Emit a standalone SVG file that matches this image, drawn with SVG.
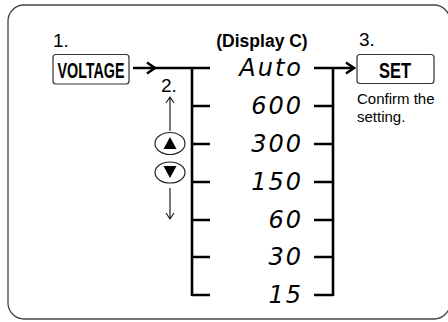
<svg xmlns="http://www.w3.org/2000/svg" width="448" height="322" viewBox="0 0 448 322">
<style>
.lbl{font-family:"Liberation Sans",Arial,sans-serif;fill:#000}
.num{font-size:19px}
.key{font-family:"Liberation Sans Narrow","Liberation Sans",Arial,sans-serif;font-weight:bold;font-size:22px;text-anchor:middle}
.keybox{fill:#fff;stroke:#333;stroke-width:1.2}
.seg{font-family:"DejaVu Sans","Liberation Mono",monospace;font-style:italic;font-weight:200;font-size:24px;text-anchor:end;letter-spacing:2px;fill:#000}
.bar{fill:none;stroke:#000;stroke-width:2.6;stroke-linecap:butt}
.thin{fill:none;stroke:#222;stroke-width:1.2}
.btn{fill:#fff;stroke:#222;stroke-width:1.2}
</style>
<rect id="frame" x="8" y="5" width="442" height="314" rx="16" ry="16" fill="#fff" stroke="#444" stroke-width="1.3"/>

<g id="step1">
  <text class="lbl num" x="53" y="47">1.</text>
</g>
<g id="voltage">
  <rect class="keybox" x="53" y="54.5" width="76" height="29.5" rx="3"/>
  <text class="key" x="91" y="77.5" textLength="67" lengthAdjust="spacingAndGlyphs">VOLTAGE</text>
</g>
<g id="display-title">
  <text class="lbl" x="262" y="47" font-size="17.5" font-weight="bold" text-anchor="middle">(Display C)</text>
</g>
<g id="step2">
  <text class="lbl num" x="161" y="92">2.</text>
</g>
<g id="step3">
  <text class="lbl num" x="359" y="46">3.</text>
</g>
<g id="set">
  <rect class="keybox" x="357" y="54.5" width="77" height="29" rx="3"/>
  <text class="key" x="395" y="77.5" textLength="32" lengthAdjust="spacingAndGlyphs">SET</text>
</g>
<g id="note">
  <text class="lbl" x="357" y="104" font-size="15">Confirm the</text>
  <text class="lbl" x="357" y="122" font-size="15">setting.</text>
</g>
<g id="btn-up">
  <ellipse class="btn" cx="170" cy="143.5" rx="15" ry="11"/>
  <polygon points="170,137 163.5,149 176.5,149" fill="#000"/>
</g>
<g id="btn-down">
  <ellipse class="btn" cx="170" cy="172.5" rx="15" ry="10.5"/>
  <polygon points="163.5,166 176.5,166 170,178" fill="#000"/>
</g>
<g id="values">
  <text class="seg" x="303" y="76">Auto</text>
  <text class="seg" x="303" y="114">600</text>
  <text class="seg" x="303" y="152">300</text>
  <text class="seg" x="303" y="190">150</text>
  <text class="seg" x="303" y="228">60</text>
  <text class="seg" x="303" y="265">30</text>
  <text class="seg" x="303" y="303">15</text>
</g>
<g id="connectors">
  <path class="bar" d="M133,68 H210 M192,68 V296 M192,106 H210 M192,144 H210 M192,182 H210 M192,220 H210 M192,257 H210 M192,295 H210"/>
  <path class="bar" d="M147,62.5 L155,68 L147,73.5" stroke-linejoin="miter"/>
  <path class="bar" d="M314,68 H353 M333,68 V296 M314,106 H333 M314,144 H333 M314,182 H333 M314,220 H333 M314,257 H333 M314,295 H333"/>
  <path class="bar" d="M346,62.5 L354,68 L346,73.5" stroke-linejoin="miter"/>
  <path class="thin" d="M170,131 V97 M166,103 L170,97 L174,103"/>
  <path class="thin" d="M170,188 V219 M166,213 L170,219 L174,213"/>
</g>
</svg>
